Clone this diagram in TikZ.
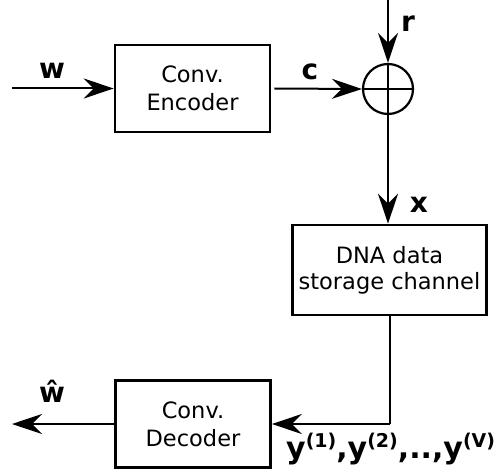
\documentclass[tikz,border=0pt]{standalone}
\usepackage{fontspec}
\setmainfont{DejaVu Sans}
\usetikzlibrary{arrows.meta}
\newcommand{\supl}[1]{\raisebox{11pt}{\fontsize{19}{21}\selectfont\bfseries #1}}
\begin{document}
\begin{tikzpicture}[x=1pt,y=-1pt,
  blk/.style={draw,line width=2.6pt,minimum width=155pt,minimum height=87pt,inner sep=0pt,
    align=center,font=\fontsize{22.5}{28}\selectfont},
  conn/.style={line width=2pt,-{Stealth[length=30pt,width=20pt,inset=10pt]}},
  wire/.style={line width=2pt},
  lbl/.style={font=\fontsize{28}{30}\selectfont\bfseries,inner sep=0pt,anchor=base}]
\useasboundingbox (0,0) rectangle (495,473);
\node[blk] (enc) at (192.5,88.5) {Conv.\\Encoder};
\node[draw,line width=2.2pt,circle,minimum size=50pt,inner sep=0pt] (sum) at (388,89) {};
\draw[line width=1.4pt] (sum.west) -- (sum.east) (sum.north) -- (sum.south);
\node[blk,minimum width=194pt,minimum height=90pt,font=\fontsize{22.5}{26}\selectfont] (dna) at (389.5,270) {DNA data\\storage channel};
\node[blk] (dec) at (193,424) {Conv.\\Decoder};
\coordinate (win) at (12,88.5);
\coordinate (rin) at (388,0);
\coordinate (wout) at (12,424);
\coordinate (bend) at (390,424);
\draw[conn] (win) -- (enc.west);
\draw[conn] ([xshift=3pt]enc.east) -- (sum.west);
\draw[conn] (rin) -- (sum.north);
\draw[conn] (sum.south) -- (dna.north -| sum.south);
\draw[wire] (dna.south -| bend) -- (bend);
\draw[conn] (bend) -- (dec.east);
\draw[conn] (dec.west) -- (wout);
\node[lbl] (lw) at (52,79) {w};
\node[lbl] (lc) at (310,80) {c};
\node[lbl] (lr) at (408,32) {r};
\node[lbl] (lx) at (419,212) {x};
\node[lbl] (lwh) at (52,402) {ŵ};
\node[lbl,anchor=base west,font=\fontsize{30}{32}\selectfont\bfseries] (ly) at (286,458) {y\supl{(1)},y\supl{(2)},..,y\supl{(V)}};
\end{tikzpicture}
\end{document}
